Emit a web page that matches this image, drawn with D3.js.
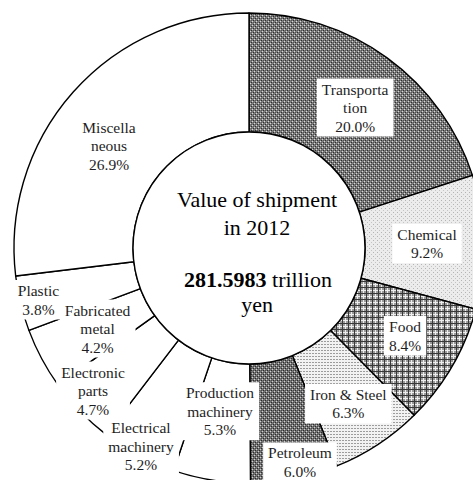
<!DOCTYPE html>
<html><head><meta charset="utf-8">
<script src="https://cdn.jsdelivr.net/npm/d3@7"></script>
<style>html,body{margin:0;padding:0;background:#fff;}svg{display:block}
text{font-family:"Liberation Serif","Times New Roman",serif;}</style>
</head><body><svg id="c" width="473" height="480"></svg>
<script>
// ---- data ----
const categories = ["Transportation","Chemical","Food","Iron & Steel","Petroleum","Production machinery","Electrical machinery","Electronic parts","Fabricated metal","Plastic","Miscellaneous"];
const shares = [20.0, 9.2, 8.4, 6.3, 6.0, 5.3, 5.2, 4.7, 4.2, 3.8, 26.9];
const labelLines = [["Transporta","tion"],["Chemical"],["Food"],["Iron & Steel"],["Petroleum"],["Production","machinery"],["Electrical","machinery"],["Electronic","parts"],["Fabricated","metal"],["Plastic"],["Miscella","neous"]];
const centerTitle = ["Value of shipment","in 2012"];
const totalValue = "281.5983";
const totalUnit = ["trillion","yen"];

// ---- layout ----
const W = 473, H = 480, cx = 249, cy = 248, rIn = 116, rOut = 235;
const fills = ["url(#pTrans)","url(#pChem)","url(#pFood)","url(#pIron)","url(#pPetro)","#fff","#fff","#fff","#fff","#fff","#fff"];
const labelNudge = [[3,1.5],[2.6,0],[4.4,-0.6],[3,9],[17,42],[-1,-10],[-25.4,43.2],[-30,20.4],[3.4,-2.1],[-40,10.25],[-8.7,14]];
const lineH = 18.5, labelFont = 15.5;
const serif = '"Liberation Serif","Times New Roman",serif';

const svg = d3.select("#c");
svg.append("rect").attr("width",W).attr("height",H).attr("fill","#fff");
const defs = svg.append("defs");

function pattern(id, size, bg, pix){
  const p = defs.append("pattern").attr("id",id).attr("patternUnits","userSpaceOnUse")
    .attr("width",size).attr("height",size);
  p.append("rect").attr("width",size).attr("height",size).attr("fill",bg);
  pix.forEach(([x,y,w,h,c])=>p.append("rect").attr("x",x).attr("y",y).attr("width",w).attr("height",h).attr("fill",c));
}
pattern("pTrans",4,"#7c7c7c",[[0,0,1,1,"#2e2e2e"],[2,2,1,1,"#2e2e2e"],[1,3,1,1,"#d8d8d8"],[3,1,1,1,"#d8d8d8"],[2,0,1,1,"#555"],[0,2,1,1,"#555"]]);
pattern("pPetro",4,"#747474",[[0,0,1,1,"#2a2a2a"],[2,2,1,1,"#2a2a2a"],[1,3,1,1,"#d0d0d0"],[3,1,1,1,"#d0d0d0"],[2,0,1,1,"#4a4a4a"],[0,2,1,1,"#4a4a4a"]]);
pattern("pChem",4,"#ececec",[[0,0,1,1,"#b4b4b4"],[2,2,1,1,"#c4c4c4"]]);
pattern("pFood",6,"#9a9a9a",[[0,0,6,1,"#eeeeee"],[0,0,1,6,"#eeeeee"],[0,3,6,1,"#383838"],[3,0,1,6,"#383838"]]);
pattern("pIron",3,"#f2f2f2",[[0,0,2,1,"#9c9c9c"]]);

const pie = d3.pie().sort(null).value(d=>d).startAngle(0).endAngle(2*Math.PI);
const arcs = pie(shares);
const arc = d3.arc().innerRadius(rIn).outerRadius(rOut);

const g = svg.append("g").attr("transform",`translate(${cx},${cy})`);
g.selectAll("path.slice").data(arcs).join("path")
  .attr("class","slice")
  .attr("d",arc)
  .attr("fill",(d,i)=>fills[i])
  .attr("stroke","#000").attr("stroke-width",1.4).attr("stroke-linejoin","round");

g.append("circle").attr("r",rIn).attr("fill","#fff").attr("stroke","#000").attr("stroke-width",1.4);

// labels
const lg = g.append("g");
arcs.forEach((a,i)=>{
  const c = arc.centroid(a);
  const x = c[0]+labelNudge[i][0], y = c[1]+labelNudge[i][1];
  const lines = labelLines[i].concat([shares[i].toFixed(1)+"%"]);
  const n = lines.length;
  const grp = lg.append("g").attr("transform",`translate(${x},${y})`);
  const t = grp.append("text").attr("text-anchor","middle")
    .style("font-family",serif).style("font-size",labelFont+"px").style("fill","#1e1e1e");
  lines.forEach((s,k)=>t.append("tspan").attr("x",0).attr("y",(k-(n-1)/2)*lineH+5.5).text(s));
  const bb = t.node().getBBox();
  grp.insert("rect","text").attr("x",bb.x-5).attr("y",bb.y-2).attr("width",bb.width+10).attr("height",bb.height+4).attr("fill","#fff");
});

// center text
const ct = g.append("text").attr("text-anchor","middle")
  .style("font-family",serif).style("font-size","22px").style("fill","#000");
ct.append("tspan").attr("x",8).attr("y",-41).text(centerTitle[0]);
ct.append("tspan").attr("x",8).attr("y",-13).text(centerTitle[1]);
const t3 = ct.append("tspan").attr("x",9).attr("y",39);
t3.append("tspan").attr("font-weight","bold").text(totalValue);
t3.append("tspan").text(" "+totalUnit[0]);
ct.append("tspan").attr("x",8).attr("y",64).text(totalUnit[1]);
</script>
</body></html>
